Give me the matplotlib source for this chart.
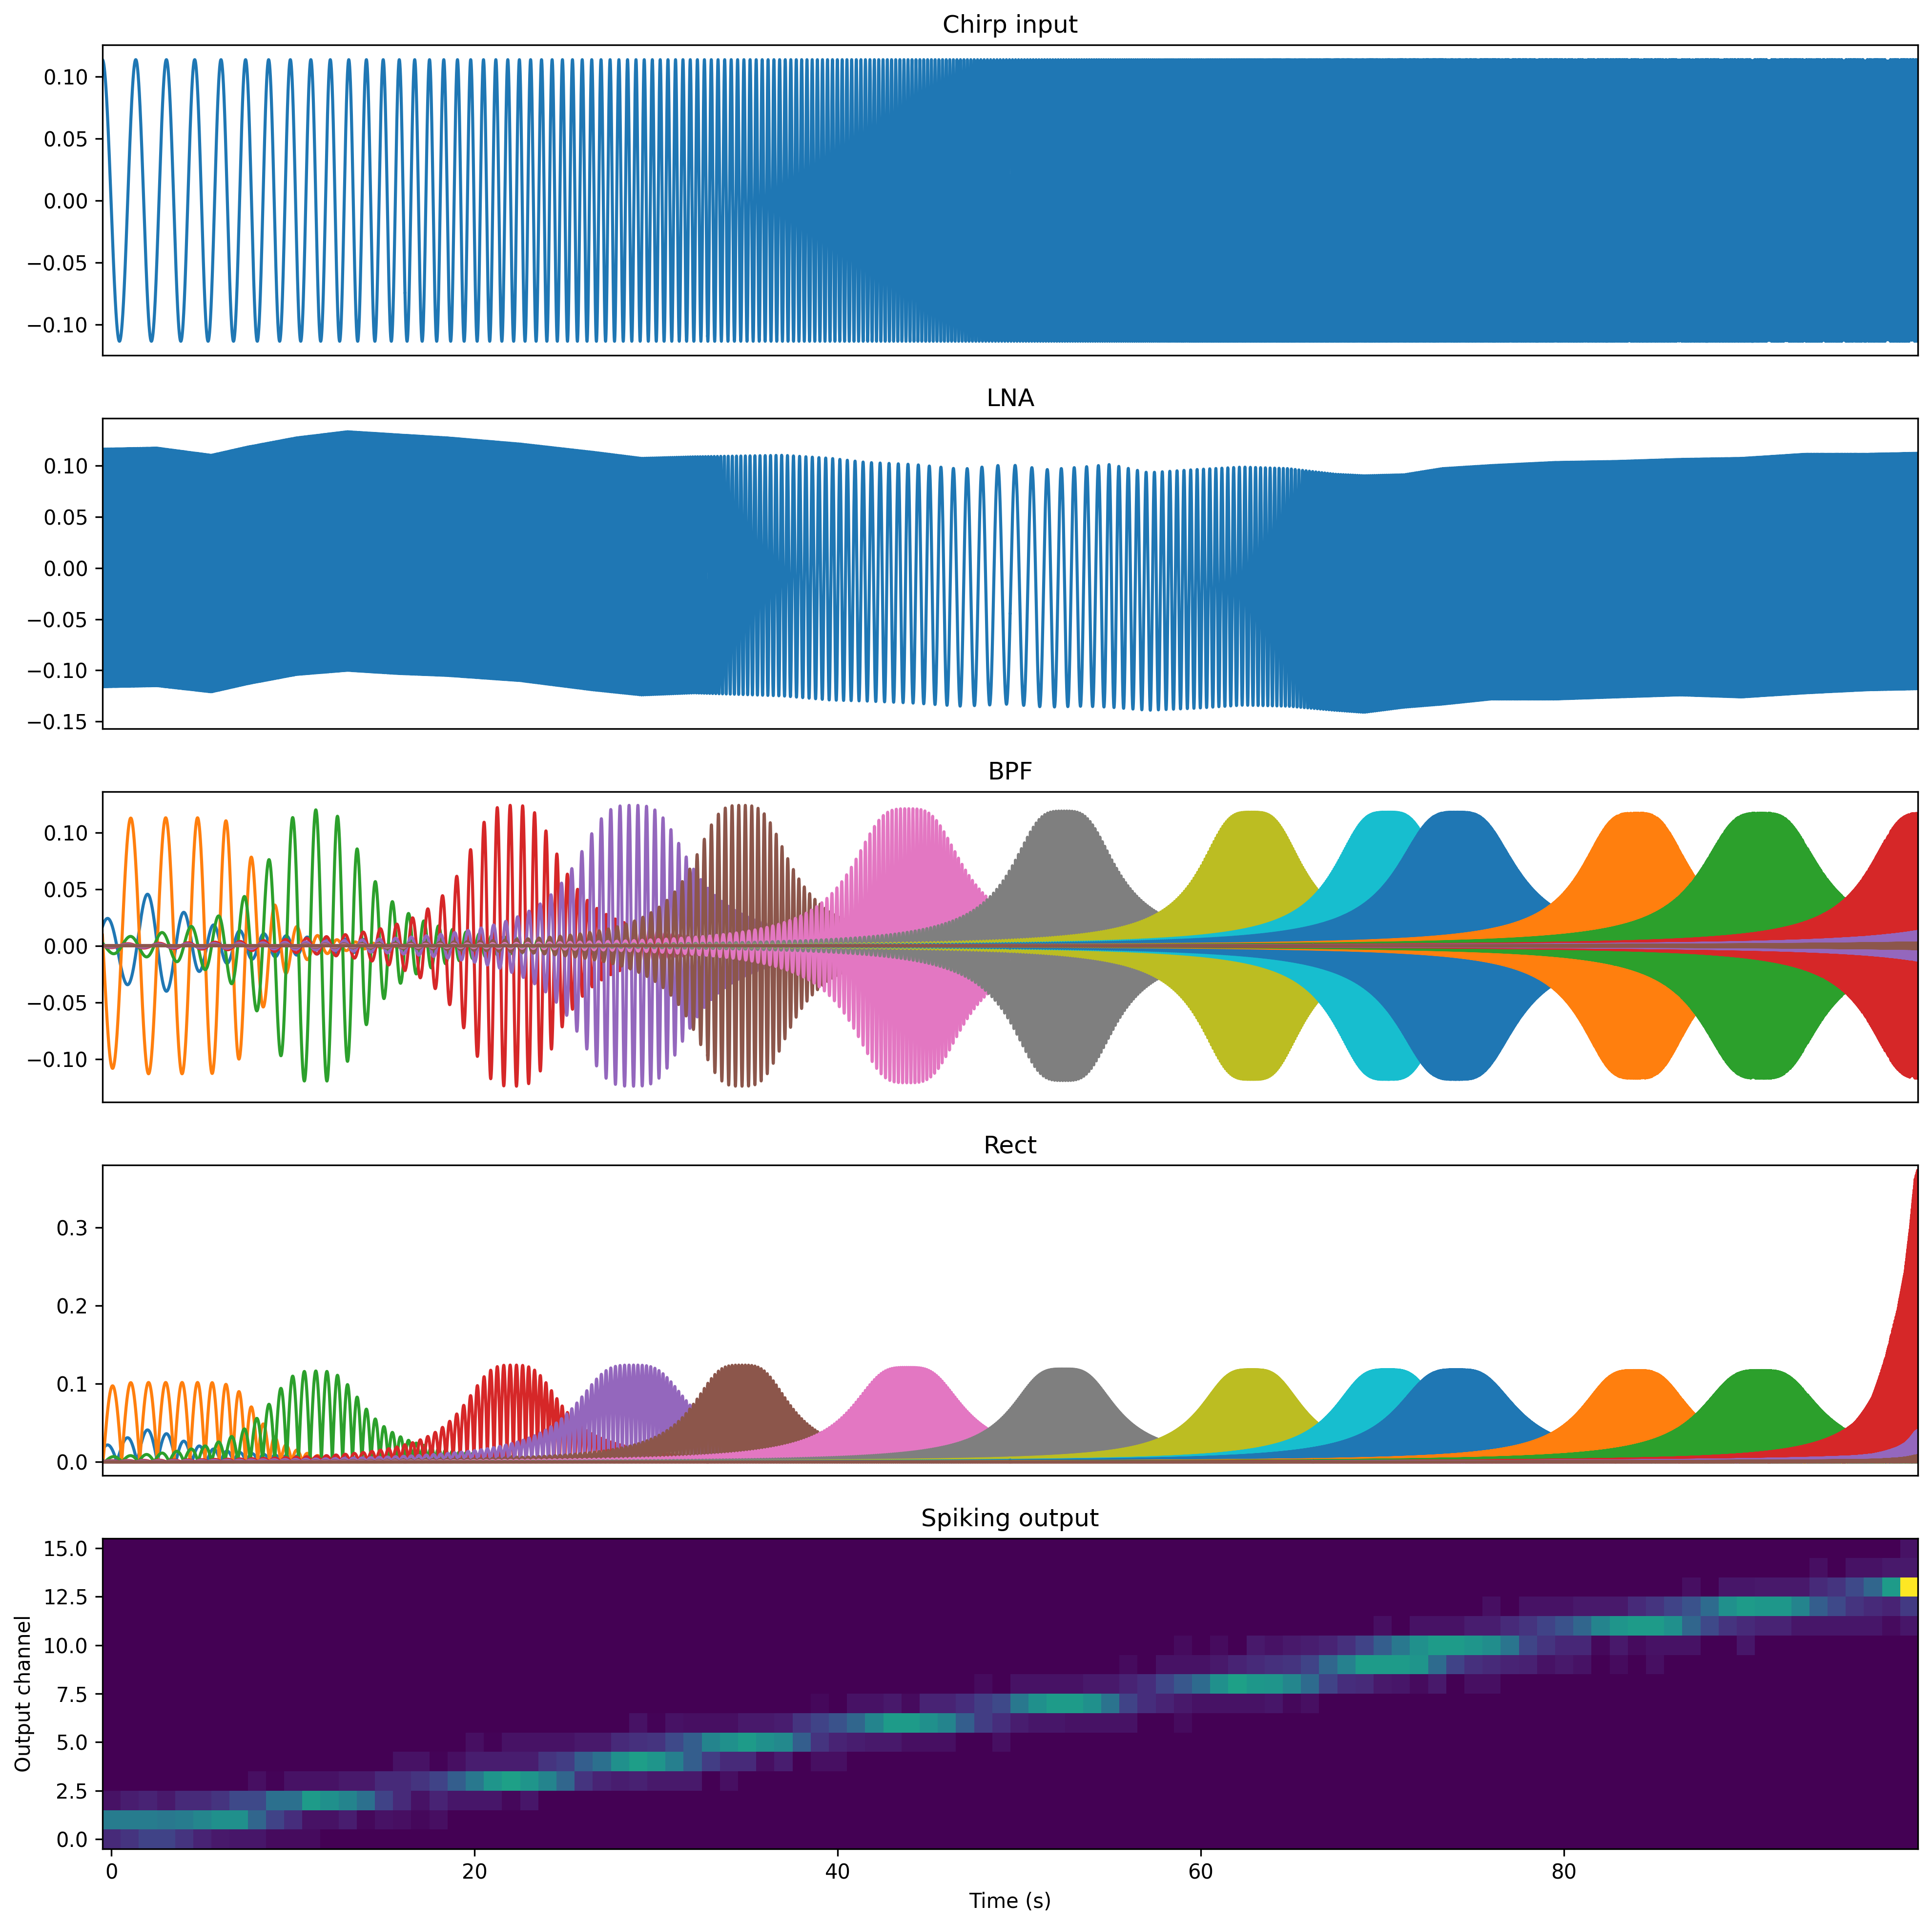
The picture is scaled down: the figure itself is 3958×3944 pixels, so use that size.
import numpy as np
import matplotlib
matplotlib.use("Agg")
import matplotlib.pyplot as plt

plt.rcParams['agg.path.chunksize'] = 20000

# ---------------- values ----------------
T_END = 100.0          # s
FS = 1000              # samples / s
CHIRP_AMP = 0.1136
CHIRP_F0 = 0.52        # Hz at t = 0
CHIRP_RATE = 0.0487    # exponential sweep rate, 1/s

# LNA output: upper / lower envelope edges and visible oscillation frequency
lna_t = [0, 3, 6, 8, 10.7, 13.5, 16.2, 19, 23, 27, 29.7, 32.6, 37.5, 40.1, 42.1, 44.7, 47.3,
         49.9, 52, 54, 55.5, 57.6, 60.2, 62.8, 65.3, 67.9, 69.5, 71.7, 73.8, 76.5, 80, 83.4,
         86.9, 90.3, 93.8, 97.2, 100]
lna_upper = [.117, .118, .111, .119, .128, .134, .131, .128, .122, .114, .108, .1095, .111, .108,
             .104, .102, .0974, .102, .097, .0995, .102, .094, .097, .0995, .098, .0925, .091,
             .092, .098, .101, .104, .105, .107, .108, .112, .112, .113]
lna_lower = [-.117, -.116, -.122, -.114, -.105, -.101, -.104, -.106, -.111, -.120, -.125, -.123,
             -.126, -.130, -.131, -.133, -.136, -.134, -.137, -.136, -.137, -.140, -.138, -.135,
             -.136, -.140, -.142, -.137, -.134, -.129, -.129, -.127, -.125, -.127, -.123, -.120,
             -.119]
lna_freq_t = [0, 20, 28, 31, 33, 34.5, 36, 38, 40.1, 42.15, 43.7, 45.0, 46.3, 47.3, 48.6, 49.5,
              50.4, 51.3, 52.2, 52.95, 53.6, 54.3, 55.0, 55.5, 56.6, 57.6, 60.1, 62.7, 64.5, 66,
              67.5, 70, 80, 100]
lna_freq = [14, 12, 10, 9, 7, 4.5, 3.6, 3.0, 2.59, 2.16, 1.95, 1.69, 1.5, 1.3, 1.18, 1.05,
            1.05, 1.14, 1.25, 1.39, 1.44, 1.5, 1.62, 1.85, 1.95, 2.16, 2.8, 3.2, 4.0, 5.0, 6.5,
            9, 12, 14]

# Band-pass channels: peak time, half-amplitude half-width, peak amplitude, skirt order, phase
bpf_center = [2.7, 3.8, 11.75, 22.6, 29.2, 35.2, 44.35, 52.95, 63.3, 70.8, 74.6, 84.45, 91.35,
              100.35, 108.6, 119.5]
bpf_halfwidth = [2.6, 5.0, 3.15, 3.06, 3.6, 3.05, 3.45, 3.25, 3.2, 3.3, 3.7, 3.35, 3.65, 3.4,
                 3.4, 3.4]
bpf_amp = [0.046, 0.113, 0.120, 0.124, 0.124, 0.124, 0.121, 0.119, 0.118, 0.118, 0.118, 0.117,
           0.117, 0.117, 0.117, 0.117]
bpf_order = [1, 4, 1.75, 1.75, 1.75, 1.75, 1.75, 1.75, 1.75, 1.75, 1.75, 1.75, 1.75, 1.75,
             1.75, 1.75]
bpf_phase = [-0.4, 0.0, -0.25, -0.22, -0.2, -0.2, -0.2, -0.2, -0.2, -0.2, -0.2, -0.2, -0.2,
             -0.2, -0.2, -0.2]   # cycles

# Rectifier: per-channel gain and growth at the very end
rect_gain = [0.9, 0.9, 0.97, 1, 1, 1, 1, 1, 1, 1, 1, 1, 1, 1, 1, 1]
rect_boost_t = [0, 96.5, 97.5, 98.2, 98.9, 99.3, 99.6, 99.85, 100.0]
rect_boost = [1.0, 1.0, 1.14, 1.41, 1.78, 2.13, 2.6, 3.1, 3.2]

# Spiking output (16 channels x 100 one-second bins), sparse rows: first column, values
spike_start = [0, 0, 0, 8, 16, 20, 29, 39, 48, 56, 59, 70, 76, 87, 94, 99]
spike_vals = [
    [0.12, 0.15, 0.20, 0.20, 0.15, 0.10, 0.07, 0.06, 0.06, 0.03, 0.03, 0.03],
    [0.42, 0.42, 0.42, 0.40, 0.42, 0.46, 0.50, 0.50, 0.33, 0.20, 0.13, 0.05, 0.05, 0.08, 0.02,
     0.05, 0.04, 0.02, 0.04],
    [0.05, 0.08, 0.10, 0.07, 0.12, 0.12, 0.15, 0.22, 0.22, 0.37, 0.37, 0.55, 0.50, 0.45, 0.37,
     0.20, 0.12, 0.05, 0.10, 0.06, 0.06, 0.06, 0.02, 0.06],
    [0.04, 0.01, 0.05, 0.05, 0.05, 0.07, 0.07, 0.12, 0.12, 0.15, 0.20, 0.30, 0.40, 0.52, 0.57,
     0.52, 0.45, 0.33, 0.15, 0.10, 0.08, 0.09, 0.07, 0.07, 0.07, 0.00, 0.04],
    [0.05, 0.05, 0.01, 0.04, 0.08, 0.08, 0.08, 0.08, 0.15, 0.18, 0.30, 0.37, 0.50, 0.56, 0.52,
     0.43, 0.30, 0.18, 0.12, 0.12, 0.04, 0.08, 0.00, 0.04, 0.04],
    [0.04, 0.01, 0.05, 0.05, 0.05, 0.05, 0.07, 0.07, 0.12, 0.14, 0.15, 0.22, 0.30, 0.45, 0.50,
     0.55, 0.50, 0.47, 0.30, 0.15, 0.10, 0.08, 0.07, 0.07, 0.04, 0.04, 0.04, 0.00, 0.00, 0.04],
    [0.05, 0.01, 0.05, 0.04, 0.04, 0.04, 0.07, 0.07, 0.08, 0.15, 0.20, 0.25, 0.33, 0.45, 0.55,
     0.55, 0.50, 0.45, 0.30, 0.18, 0.13, 0.08, 0.06, 0.06, 0.05, 0.05, 0.05, 0.05, 0.00, 0.00,
     0.03],
    [0.02, 0.00, 0.05, 0.05, 0.07, 0.03, 0.10, 0.10, 0.13, 0.18, 0.22, 0.40, 0.50, 0.55, 0.55,
     0.50, 0.38, 0.20, 0.13, 0.10, 0.07, 0.05, 0.05, 0.05, 0.05, 0.06, 0.02, 0.04],
    [0.03, 0.00, 0.05, 0.05, 0.05, 0.05, 0.07, 0.07, 0.10, 0.13, 0.20, 0.27, 0.35, 0.50, 0.57,
     0.53, 0.52, 0.46, 0.35, 0.20, 0.13, 0.12, 0.07, 0.06, 0.03, 0.07, 0.00, 0.04, 0.04],
    [0.03, 0.00, 0.05, 0.05, 0.05, 0.07, 0.10, 0.12, 0.14, 0.15, 0.20, 0.33, 0.44, 0.55, 0.55,
     0.55, 0.52, 0.35, 0.20, 0.14, 0.12, 0.10, 0.09, 0.05, 0.07, 0.05, 0.00, 0.03, 0.00, 0.04],
    [0.03, 0.00, 0.03, 0.00, 0.07, 0.05, 0.07, 0.08, 0.10, 0.14, 0.20, 0.30, 0.40, 0.50, 0.55,
     0.55, 0.52, 0.49, 0.39, 0.21, 0.15, 0.11, 0.11, 0.02, 0.07, 0.03, 0.05, 0.05, 0.05, 0.00,
     0.00, 0.06],
    [0.04, 0.00, 0.05, 0.05, 0.05, 0.08, 0.08, 0.12, 0.15, 0.20, 0.25, 0.33, 0.45, 0.52, 0.55,
     0.55, 0.50, 0.33, 0.22, 0.15, 0.12, 0.10, 0.10, 0.06, 0.06, 0.06, 0.06, 0.06, 0.03, 0.06],
    [0.04, 0.00, 0.05, 0.05, 0.05, 0.07, 0.07, 0.07, 0.12, 0.15, 0.20, 0.25, 0.35, 0.50, 0.55,
     0.53, 0.53, 0.45, 0.30, 0.22, 0.15, 0.12, 0.10, 0.17],
    [0.04, 0.00, 0.06, 0.06, 0.07, 0.07, 0.07, 0.12, 0.15, 0.22, 0.33, 0.55, 1.00],
    [0.04, 0.00, 0.05, 0.05, 0.07, 0.07],
    [0.05],
]
N_CHANNELS = 16
N_BINS = 100

# ---------------- build signals ----------------
t = np.linspace(0.0, T_END, int(T_END * FS) + 1)
chirp_phase = 2 * np.pi * CHIRP_F0 / CHIRP_RATE * (np.exp(CHIRP_RATE * t) - 1.0)
chirp = CHIRP_AMP * np.cos(chirp_phase)

up = np.interp(t, lna_t, lna_upper)
lo = np.interp(t, lna_t, lna_lower)
lna_off = 0.5 * (up + lo)
lna_env = 0.5 * (up - lo) - 0.001
lna_phase = 2 * np.pi * np.cumsum(np.interp(t, lna_freq_t, lna_freq)) / FS
lna = lna_off + lna_env * np.cos(lna_phase)

boost = np.interp(t, rect_boost_t, rect_boost)
bpf = []
rect = []
for i in range(N_CHANNELS):
    dt = t - bpf_center[i]
    x = np.sinh(CHIRP_RATE * dt) / np.sinh(CHIRP_RATE * bpf_halfwidth[i])
    env = bpf_amp[i] / np.sqrt(1.0 + 3.0 * np.abs(x) ** (2 * bpf_order[i]))
    ph = chirp_phase + 2 * np.pi * bpf_phase[i] - 2.0 * np.arctan(1.2 * x)
    y = env * np.cos(ph)
    bpf.append(y)
    rect.append(rect_gain[i] * np.abs(y) * boost)

spikes = np.zeros((N_CHANNELS, N_BINS))
for r in range(N_CHANNELS):
    s = spike_start[r]
    v = spike_vals[r]
    spikes[r, s:s + len(v)] = v

# ---------------- figure ----------------
fig = plt.figure(figsize=(3958 / 300, 3944 / 300), dpi=300)
axes = fig.subplots(5, 1)
fig.subplots_adjust(left=0.0530, right=0.9927, top=0.9766, bottom=0.0396, hspace=0.203)

ax = axes[0]
ax.plot(t, chirp, color='C0')
ax.set_title('Chirp input')
ax.set_xlim(t[0], t[-1])
ax.set_ylim(-0.125, 0.1254)
ax.set_xticks([])

ax = axes[1]
ax.plot(t, lna, color='C0')
ax.set_title('LNA')
ax.set_xlim(t[0], t[-1])
ax.set_ylim(-0.157, 0.146)
ax.set_xticks([])

ax = axes[2]
for i in range(N_CHANNELS):
    ax.plot(t, bpf[i], color='C%d' % (i % 10))
ax.set_title('BPF')
ax.set_xlim(t[0], t[-1])
ax.set_ylim(-0.138, 0.136)
ax.set_xticks([])

ax = axes[3]
for i in range(N_CHANNELS):
    ax.plot(t, rect[i], color='C%d' % (i % 10))
ax.set_title('Rect')
ax.set_xlim(t[0], t[-1])
ax.set_ylim(-0.0173, 0.38)
ax.set_xticks([])

ax = axes[4]
ax.imshow(spikes, aspect='auto', origin='lower', cmap='viridis', interpolation='nearest')
ax.set_title('Spiking output')
ax.set_xlabel('Time (s)')
ax.set_ylabel('Output channel')

fig.savefig('out.png', dpi=300)
